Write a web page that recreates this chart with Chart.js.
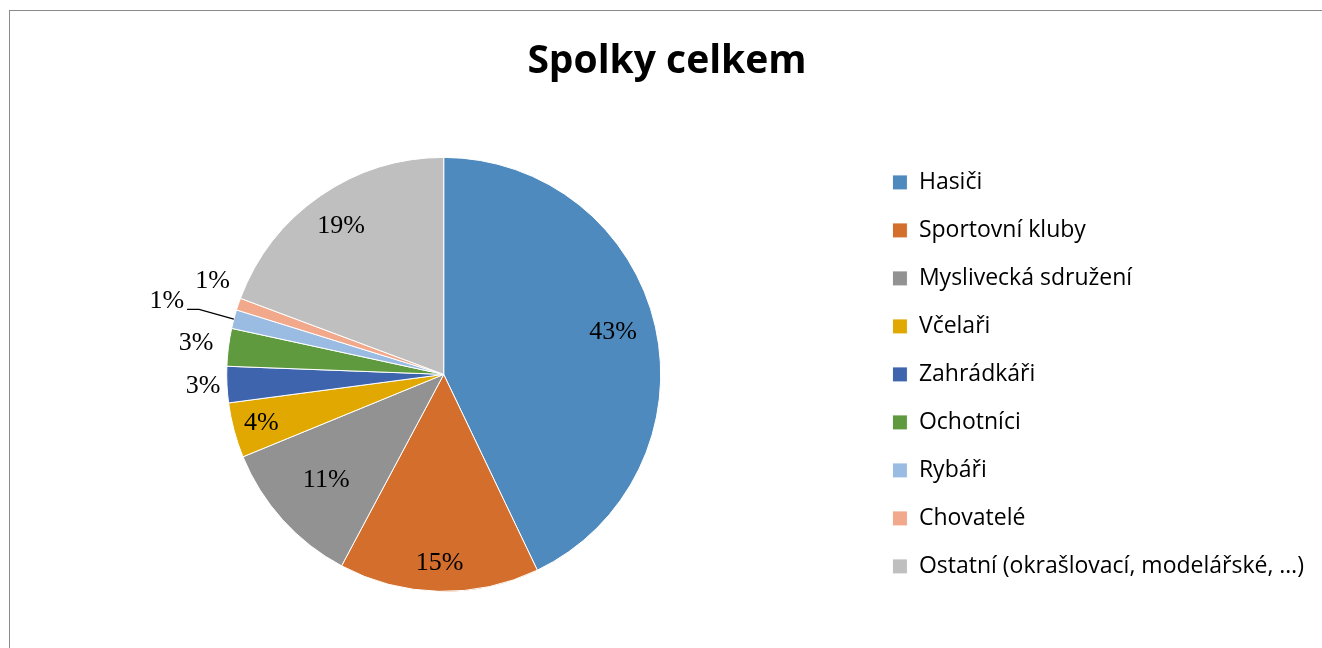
<!DOCTYPE html>
<html>
<head>
<meta charset="utf-8">
<script src="https://cdn.jsdelivr.net/npm/chart.js@4.4.0/dist/chart.umd.min.js"></script>
<style>
  html, body { margin: 0; padding: 0; background: #fff; overflow: hidden; }
  #frame { position: absolute; left: 9px; top: 10px; width: 1340px; height: 680px; border: 1px solid #8a8a8a; }
  #spolky { display: block; }
</style>
</head>
<body>
<div id="frame"><canvas id="spolky" width="1312" height="637"></canvas></div>
<script>
const categories = ['Hasiči', 'Sportovní kluby', 'Myslivecká sdružení', 'Včelaři', 'Zahrádkáři',
    'Ochotníci', 'Rybáři', 'Chovatelé', 'Ostatní (okrašlovací, modelářské, …)'];
const shares = [42.9, 14.9, 11.0, 4.1, 2.7, 2.8, 1.4, 0.9, 19.3];
const sliceColors = ['#4f8abe', '#d46e2c', '#929292', '#e0a800', '#3e64ad',
    '#5f9a3e', '#9bbce2', '#f1a88b', '#bfbfbf'];

// where each percentage sits, as a share of the radius (Excel "best fit" look)
const labelDist = [0.80, 0.87, 0.73, 0.87, 1.11, 1.15, 1.32, 1.16, 0.83];
const labelNudge = [[0, -4], [0, 0], [0, 0], [0, 0], [0, 0], [0, 0], [0, 0], [7, -12], [0, 0]];

const sliceLabels = {
    id: 'sliceLabels',
    afterDatasetsDraw(chart) {
        const ctx = chart.ctx;
        const meta = chart.getDatasetMeta(0);
        const total = shares.reduce((a, b) => a + b, 0);
        ctx.save();
        ctx.font = '26px "Liberation Serif", "Times New Roman", serif';
        ctx.fillStyle = '#000';
        ctx.textAlign = 'center';
        ctx.textBaseline = 'middle';
        meta.data.forEach((arc, i) => {
            const p = arc.getProps(['x', 'y', 'startAngle', 'endAngle', 'outerRadius'], true);
            const mid = (p.startAngle + p.endAngle) / 2;
            const d = labelDist[i] * p.outerRadius;
            const tx = p.x + Math.cos(mid) * d + labelNudge[i][0];
            const ty = p.y + Math.sin(mid) * d + labelNudge[i][1];
            const text = Math.round(shares[i] / total * 100) + '%';
            ctx.fillText(text, tx, ty);
            if (i === 6) {
                // leader line for the tiny slice
                const w = ctx.measureText(text).width;
                const x0 = tx + w / 2 + 3, y0 = ty + 8;
                ctx.beginPath();
                ctx.strokeStyle = '#000';
                ctx.lineWidth = 1.2;
                ctx.moveTo(x0, y0);
                ctx.lineTo(x0 + 12, y0);
                ctx.lineTo(p.x + Math.cos(mid) * p.outerRadius, p.y + Math.sin(mid) * p.outerRadius);
                ctx.stroke();
            }
        });
        ctx.restore();
    }
};

new Chart(document.getElementById('spolky').getContext('2d'), {
    type: 'pie',
    data: {
        labels: categories,
        datasets: [{
            data: shares,
            backgroundColor: sliceColors,
            borderColor: '#ffffff',
            borderWidth: 1,
            radius: 217
        }]
    },
    options: {
        responsive: false,
        animation: false,
        layout: { padding: { left: 10, right: 8, top: 0, bottom: 38 } },
        plugins: {
            title: {
                display: true,
                text: 'Spolky celkem',
                color: '#000',
                font: { family: 'Open Sans', size: 39, weight: 'bold' },
                padding: { top: 27, bottom: 54 }
            },
            legend: {
                position: 'right',
                fullSize: false,
                labels: {
                    color: '#000',
                    font: { family: 'Open Sans', size: 23 },
                    boxWidth: 15,
                    boxHeight: 15,
                    padding: 25
                }
            },
            tooltip: { enabled: false }
        }
    },
    plugins: [sliceLabels]
});
</script>
</body>
</html>
